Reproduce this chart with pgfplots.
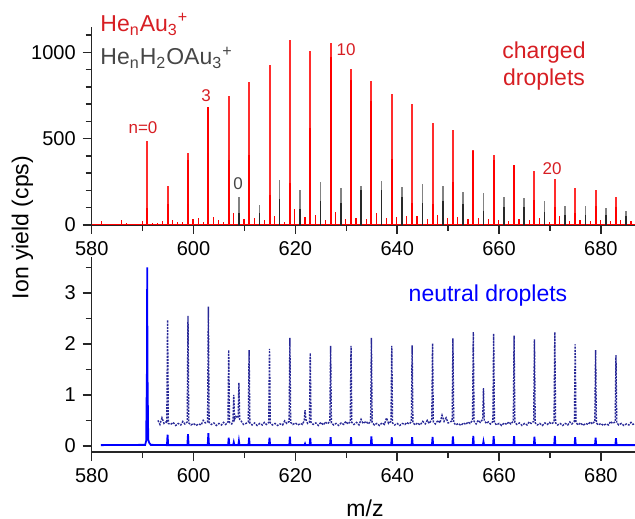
\documentclass[border=0pt]{standalone}
\usepackage{pgfplots}
\pgfplotsset{compat=1.18}
\usepackage{fontspec}
\setmainfont{Liberation Sans}
\definecolor{txtred}{RGB}{215,30,35}
\definecolor{txtgray}{RGB}{70,70,70}
\definecolor{lightred}{RGB}{255,45,45}
\definecolor{lightgray}{RGB}{130,130,130}
\definecolor{darkgray}{RGB}{40,40,40}
\definecolor{navy}{RGB}{40,40,150}
\begin{document}
\begin{tikzpicture}[x=1pt,y=1pt]
\pgfplotsset{
  spec/.style={
    scale only axis, width=271.65pt,
    xmin=580, xmax=686.7,
    axis x line*=bottom, axis y line*=left,
    axis line style={-, line width=0.75pt, black!85},
    tick align=outside, major tick length=4.5pt, minor tick length=3pt,
    tick style={line width=0.75pt, black!85},
    xtick={580,600,...,680}, minor xtick={590,610,...,670},
    tick label style={font=\fontsize{10}{12}\selectfont},
    /pgf/number format/assume math mode=true,
    /pgf/number format/1000 sep={},
  },
}

% top: charged droplets
\begin{axis}[spec, at={(45.85pt,146.5pt)}, anchor=south west, height=99.2pt,
  ymin=0, ymax=1150, ytick={0,500,1000},
  minor ytick={100,200,300,400,600,700,800,900,1100}]
\addplot[red, line width=0.6pt] coordinates {(580,3)(686.7,3)};
% small red peaks
\addplot[ycomb, red, line width=0.6pt, mark=none] coordinates {
(580.9,5)(581.9,22)(583.0,8)(584.9,6)(585.9,28)(586.9,10)(587.9,6)(588.9,8)(589.9,22)
(591.9,12)(592.9,10)(593.9,22)(595.9,30)(596.9,15)(597.9,18)
(599.9,35)(600.9,42)(601.9,15)(603.9,45)(604.9,30)(605.9,18)
(607.9,70)(609.9,35)(611.9,40)(612.9,25)(613.9,30)
(615.9,55)(616.9,30)(617.9,20)(619.9,90)(620.9,40)(621.9,45)
(623.9,60)(624.9,35)(625.9,30)(627.9,75)(628.9,30)(629.9,35)
(631.9,40)(632.9,60)(633.9,35)(635.9,70)(636.9,25)(637.9,40)
(639.9,45)(640.9,30)(641.9,50)(643.9,55)(644.9,25)(645.9,35)
(647.9,60)(648.9,30)(649.9,40)(651.9,45)(652.9,25)(653.9,35)
(655.9,40)(656.9,20)(657.9,35)(659.9,30)(660.9,20)(661.9,25)
(663.9,35)(664.9,20)(665.9,30)(667.9,40)(668.9,25)(669.9,20)
(671.9,50)(672.9,30)(673.9,25)(675.9,30)(676.9,15)(677.9,25)
(679.9,30)(680.9,20)(681.9,25)(683.9,30)(684.9,15)(685.9,25)};
% He_n Au3+  (full height, light)
\addplot[ycomb, lightred, line width=1pt, mark=none] coordinates {
(590.90,489)(594.90,228)(598.91,416)(602.91,686)(606.91,750)(610.91,829)
(614.92,927)(618.92,1072)(622.92,1009)(626.92,1057)(630.93,904)(634.93,837)
(638.93,757)(642.93,701)(646.94,593)(650.94,551)(654.94,437)(658.94,406)
(662.95,348)(666.95,313)(670.95,267)(674.95,213)(678.96,203)(682.96,164)};
% He_n Au3+  (darker lower part)
\addplot[ycomb, red, line width=1pt, mark=none] coordinates {
(590.90,97)(594.90,122)(598.91,377)(602.91,686)(606.91,377)(610.91,406)
(614.92,174)(618.92,242)(622.92,564)(626.92,976)(630.93,841)(634.93,721)
(638.93,381)(642.93,129)(646.94,120)(650.94,251)(654.94,431)(658.94,377)
(662.95,348)(666.95,145)(670.95,106)(674.95,68)(678.96,112)(682.96,106)};
% He_n H2O Au3+
\addplot[ycomb, lightgray, line width=0.8pt, mark=none] coordinates {
(608.91,160)(612.92,116)(616.92,259)(620.92,205)(624.92,249)(628.93,213)
(632.93,226)(636.93,255)(640.93,218)(644.94,238)(648.94,224)(652.94,191)
(656.94,187)(660.95,160)(664.95,158)(668.95,137)(672.95,112)(676.96,108)
(680.96,99)(684.96,79)};
\addplot[ycomb, darkgray, line width=0.8pt, mark=none] coordinates {
(608.91,70)(612.92,70)(616.92,150)(620.92,90)(624.92,140)(628.93,130)
(632.93,200)(636.93,200)(640.93,160)(644.94,130)(648.94,140)(652.94,120)
(656.94,80)(660.95,106)(664.95,106)(668.95,77)(672.95,58)(676.96,60)
(680.96,60)(684.96,50)};
\end{axis}

% bottom: neutral droplets
\begin{axis}[spec, at={(45.85pt,33pt)}, anchor=south west, height=97.4pt,
  ymin=-0.12, ymax=3.7, ytick={0,1,2,3}, minor ytick={0.5,1.5,2.5,3.5}]
\addplot[blue, line width=0.9pt, mark=none] coordinates {
(581.8,0.015)
(590.5,0.02)(590.7,0.1)(590.85,1.5)(590.9,3.5)(590.95,1.5)(591.1,0.12)(591.3,0.06)(591.6,0.02)
(594.78,0.015)(594.90,0.22)(595.02,0.015)
(598.79,0.015)(598.91,0.23)(599.03,0.015)
(602.79,0.015)(602.91,0.25)(603.03,0.015)
(606.79,0.015)(606.91,0.16)(607.03,0.015)
(607.78,0.015)(607.9,0.07)(608.02,0.015)
(608.79,0.015)(608.91,0.10)(609.03,0.015)
(610.79,0.015)(610.91,0.16)(611.03,0.015)
(614.80,0.015)(614.92,0.16)(615.04,0.015)
(618.80,0.015)(618.92,0.18)(619.04,0.015)
(621.78,0.015)(621.9,0.045)(622.02,0.015)
(622.80,0.015)(622.92,0.155)(623.04,0.015)
(626.80,0.015)(626.92,0.17)(627.04,0.015)
(630.81,0.015)(630.93,0.17)(631.05,0.015)
(634.81,0.015)(634.93,0.185)(635.05,0.015)
(638.81,0.015)(638.93,0.17)(639.05,0.015)
(642.81,0.015)(642.93,0.17)(643.05,0.015)
(646.82,0.015)(646.94,0.175)(647.06,0.015)
(650.82,0.015)(650.94,0.185)(651.06,0.015)
(654.82,0.015)(654.94,0.195)(655.06,0.015)
(656.82,0.015)(656.94,0.085)(657.06,0.015)
(658.82,0.015)(658.94,0.19)(659.06,0.015)
(662.83,0.015)(662.95,0.19)(663.07,0.015)
(666.83,0.015)(666.95,0.18)(667.07,0.015)
(670.83,0.015)(670.95,0.195)(671.07,0.015)
(674.83,0.015)(674.95,0.17)(675.07,0.015)
(678.84,0.015)(678.96,0.16)(679.08,0.015)
(682.84,0.015)(682.96,0.15)(683.08,0.015)
(686.7,0.015)};
\addplot[navy, line width=0.7pt, dash pattern=on 1pt off 0.6pt, mark=none] coordinates {
(593.0,0.50)(593.4,0.42)(593.8,0.55)(594.2,0.44)(594.6,0.47)(594.75,0.45)(594.90,2.47)(595.05,0.44)
(595.5,0.42)(596.0,0.46)(596.5,0.40)(597.0,0.44)(597.5,0.41)(597.9,0.48)(598.3,0.43)(598.76,0.47)(598.91,2.55)(599.06,0.45)
(599.5,0.41)(600.0,0.44)(600.5,0.40)(601.0,0.43)(601.5,0.41)(601.9,0.50)(602.3,0.45)(602.76,0.47)(602.91,2.73)(603.06,0.46)
(603.5,0.42)(604.0,0.45)(604.5,0.40)(605.0,0.44)(605.5,0.41)(605.9,0.46)(606.3,0.42)(606.76,0.47)(606.91,1.88)(607.06,0.46)
(607.5,0.43)(607.75,0.50)(607.9,1.0)(608.05,0.52)(608.3,0.58)(608.76,0.55)(608.91,1.24)(609.06,0.52)
(609.4,0.48)(609.8,0.42)(610.3,0.44)(610.76,0.47)(610.91,1.88)(611.06,0.45)
(611.5,0.41)(612.0,0.45)(612.5,0.40)(613.0,0.44)(613.5,0.41)(613.9,0.46)(614.3,0.42)(614.77,0.46)(614.92,1.90)(615.07,0.45)
(615.5,0.41)(616.0,0.44)(616.5,0.40)(617.0,0.43)(617.5,0.41)(617.9,0.49)(618.3,0.44)(618.77,0.48)(618.92,2.12)(619.07,0.46)
(619.5,0.42)(620.0,0.45)(620.5,0.41)(621.0,0.44)(621.4,0.42)(621.75,0.50)(621.9,0.70)(622.05,0.52)(622.4,0.44)(622.77,0.47)(622.92,1.82)(623.07,0.46)
(623.5,0.42)(624.0,0.45)(624.5,0.40)(625.0,0.46)(625.5,0.41)(625.9,0.47)(626.3,0.43)(626.77,0.48)(626.92,1.96)(627.07,0.45)
(627.5,0.41)(628.0,0.44)(628.5,0.40)(629.0,0.45)(629.5,0.42)(629.9,0.48)(630.3,0.43)(630.78,0.47)(630.93,1.96)(631.08,0.46)
(631.5,0.42)(632.0,0.46)(632.5,0.41)(632.9,0.52)(633.3,0.44)(633.9,0.48)(634.3,0.43)(634.78,0.48)(634.93,2.12)(635.08,0.46)
(635.5,0.41)(636.0,0.44)(636.5,0.40)(637.0,0.45)(637.5,0.42)(637.9,0.55)(638.3,0.44)(638.78,0.48)(638.93,1.96)(639.08,0.45)
(639.5,0.41)(640.0,0.44)(640.5,0.40)(641.0,0.44)(641.5,0.42)(641.9,0.46)(642.3,0.43)(642.78,0.47)(642.93,1.97)(643.08,0.46)
(643.5,0.41)(644.0,0.45)(644.5,0.41)(645.0,0.48)(645.5,0.43)(645.9,0.50)(646.3,0.44)(646.79,0.52)(646.94,2.01)(647.09,0.47)
(647.5,0.43)(648.0,0.50)(648.4,0.45)(648.8,0.60)(649.2,0.48)(649.6,0.55)(650.0,0.45)(650.4,0.47)(650.79,0.49)(650.94,2.11)(651.09,0.46)
(651.5,0.41)(652.0,0.44)(652.5,0.40)(653.0,0.45)(653.5,0.42)(653.9,0.47)(654.3,0.44)(654.79,0.50)(654.94,2.23)(655.09,0.48)
(655.5,0.43)(655.9,0.50)(656.3,0.46)(656.79,0.52)(656.94,1.13)(657.09,0.50)(657.5,0.44)(657.9,0.47)(658.3,0.43)(658.79,0.48)(658.94,2.20)(659.09,0.46)
(659.5,0.41)(660.0,0.44)(660.5,0.40)(661.0,0.45)(661.5,0.42)(661.9,0.47)(662.3,0.43)(662.8,0.48)(662.95,2.16)(663.1,0.46)
(663.5,0.42)(664.0,0.45)(664.5,0.40)(665.0,0.44)(665.5,0.41)(665.9,0.47)(666.3,0.44)(666.8,0.48)(666.95,2.09)(667.1,0.45)
(667.5,0.41)(668.0,0.44)(668.5,0.40)(669.0,0.45)(669.5,0.42)(669.9,0.46)(670.3,0.43)(670.8,0.47)(670.95,2.23)(671.1,0.45)
(671.5,0.41)(672.0,0.44)(672.5,0.40)(673.0,0.44)(673.5,0.41)(673.9,0.47)(674.3,0.43)(674.8,0.48)(674.95,1.99)(675.1,0.46)
(675.5,0.41)(676.0,0.45)(676.5,0.40)(677.0,0.44)(677.5,0.42)(677.9,0.47)(678.3,0.43)(678.81,0.48)(678.96,1.88)(679.11,0.45)
(679.5,0.41)(680.0,0.44)(680.5,0.40)(681.0,0.43)(681.5,0.41)(681.9,0.48)(682.3,0.44)(682.81,0.47)(682.96,1.78)(683.11,0.45)
(683.5,0.41)(684.0,0.44)(684.5,0.40)(685.0,0.43)(685.5,0.41)(685.9,0.46)(686.3,0.42)(686.7,0.44)};
\end{axis}

% labels
\def\big{\fontsize{11.5}{13.5}\selectfont}
\def\small{\fontsize{8.5}{10}\selectfont}
\node[anchor=base west, inner sep=0pt, text=txtred, font=\big] at (50,243.2) {He\textsubscript{n}Au\textsubscript{3}\textsuperscript{+}};
\node[anchor=base west, inner sep=0pt, text=txtgray, font=\big] at (50,226.5) {He\textsubscript{n}H\textsubscript{2}OAu\textsubscript{3}\textsuperscript{+}};
\node[text=txtred, font=\small, inner sep=0pt] at (71.5,195) {n=0};
\node[text=txtred, font=\small, inner sep=0pt] at (103,211) {3};
\node[text=txtred, font=\small, inner sep=0pt] at (173,234) {10};
\node[text=txtred, font=\small, inner sep=0pt] at (276,174.5) {20};
\node[text=txtgray, font=\small, inner sep=0pt] at (119,167) {0};
\node[text=txtred, font=\big, align=center, inner sep=0pt] at (272,226) {charged\\droplets};
\node[text=blue, font=\big, inner sep=0pt] at (244,111) {neutral droplets};
\node[font=\big, rotate=90, inner sep=0pt] at (11.25,145.25) {Ion yield (cps)};
\node[font=\big, inner sep=0pt] at (182.5,5) {m/z};

\pgfresetboundingbox
\path (0,0) rectangle (317.5,259);
\end{tikzpicture}
\end{document}
